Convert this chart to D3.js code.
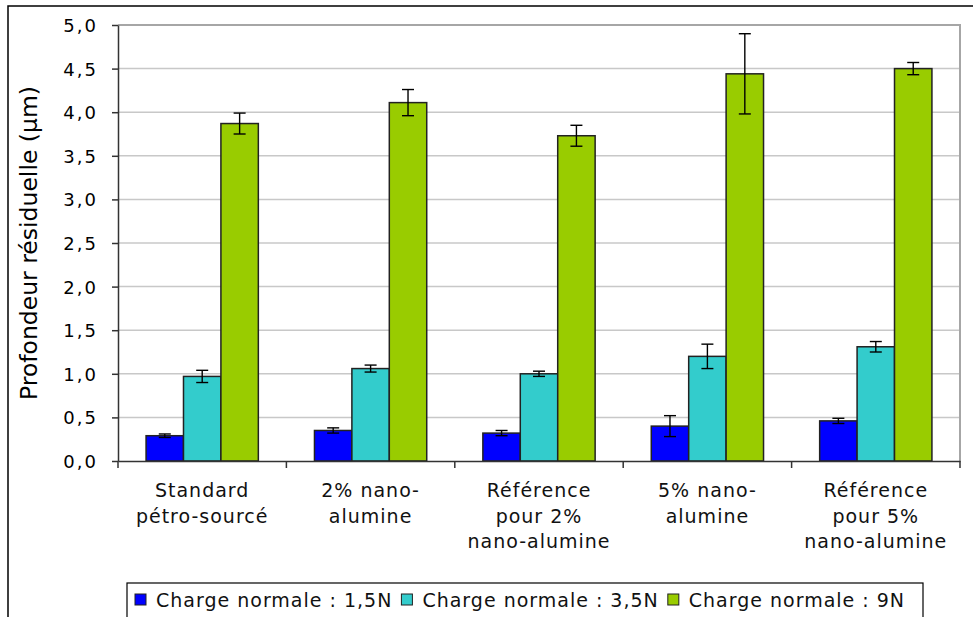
<!DOCTYPE html>
<html>
<head>
<meta charset="utf-8">
<script src="https://cdn.jsdelivr.net/npm/d3@7"></script>
<style>
body { margin: 0; background: #fff; }
svg { display: block; }
</style>
</head>
<body>
<div class="barchart"></div>
<script>
const categories = ["Standard\npétro-sourcé", "2% nano-\nalumine", "Référence\npour 2%\nnano-alumine", "5% nano-\nalumine", "Référence\npour 5%\nnano-alumine"]
const seriesNames = ["Charge normale : 1,5N", "Charge normale : 3,5N", "Charge normale : 9N"]
const charge15 = [0.29, 0.35, 0.32, 0.40, 0.46]
const charge35 = [0.97, 1.06, 1.00, 1.20, 1.31]
const charge9 = [3.87, 4.11, 3.73, 4.44, 4.50]
const err15 = [0.02, 0.03, 0.03, 0.12, 0.03]
const err35 = [0.07, 0.04, 0.03, 0.14, 0.06]
const err9 = [0.12, 0.15, 0.12, 0.46, 0.07]
const yTicks = [0, 0.5, 1, 1.5, 2, 2.5, 3, 3.5, 4, 4.5, 5]
const yTitle = "Profondeur résiduelle (µm)"

const seriesValues = [charge15, charge35, charge9]
const seriesErrors = [err15, err35, err9]
const colors = ["#0000ff", "#33cccc", "#99cc00"]

const svgWidth = 973
const svgHeight = 617
const plot = {left: 118, right: 960, top: 25, bottom: 461}
const font = "'DejaVu Sans', Verdana, sans-serif"

const svg = d3.select(".barchart").append("svg")
                .attr('width', svgWidth)
                .attr('height', svgHeight)

// chart frame (runs off the right and bottom of the picture)
svg.append('rect')
    .attr('x', 8).attr('y', 6)
    .attr('width', 1000).attr('height', 700)
    .attr('fill', 'none')
    .attr('stroke', '#000')
    .attr('stroke-width', 1.5)

const xScale = d3.scaleBand()
                .domain(categories)
                .range([plot.left, plot.right])

const xInner = d3.scaleBand()
                .domain(d3.range(seriesValues.length))
                .range([0, xScale.bandwidth()])
                .paddingInner(0)
                .paddingOuter(0.75)

const yScale = d3.scaleLinear()
                .domain([0, 5])
                .range([plot.bottom, plot.top])

// gridlines
svg.append('g')
    .selectAll('line')
    .data(yTicks.filter(d => d > 0))
    .join('line')
    .attr('x1', plot.left).attr('x2', plot.right)
    .attr('y1', d => yScale(d)).attr('y2', d => yScale(d))
    .attr('stroke', '#c8c8c8')
    .attr('stroke-width', 1.5)

// plot area border, top and right
svg.append('path')
    .attr('d', `M${plot.left},${plot.top}H${plot.right}V${plot.bottom}`)
    .attr('fill', 'none')
    .attr('stroke', '#a6a6a6')
    .attr('stroke-width', 2)

// bars
seriesValues.forEach((values, s) => {
    const group = svg.append('g')
    group.selectAll('rect')
        .data(values)
        .join('rect')
        .attr('x', (d, i) => xScale(categories[i]) + xInner(s))
        .attr('y', d => yScale(d))
        .attr('width', xInner.bandwidth())
        .attr('height', d => yScale(0) - yScale(d))
        .attr('fill', colors[s])
        .attr('stroke', '#222')
        .attr('stroke-width', 1.5)

    // error bars
    const errs = group.selectAll('g.err')
        .data(values.map((d, i) => ({v: d, e: seriesErrors[s][i], i: i})))
        .join('g')
        .attr('class', 'err')
        .attr('transform', d => `translate(${xScale(categories[d.i]) + xInner(s) + xInner.bandwidth() / 2},0)`)
        .attr('stroke', '#000')
        .attr('stroke-width', 1.4)
    errs.append('line')
        .attr('y1', d => yScale(d.v - d.e)).attr('y2', d => yScale(d.v + d.e))
    errs.append('line')
        .attr('x1', -6).attr('x2', 6)
        .attr('y1', d => yScale(d.v + d.e)).attr('y2', d => yScale(d.v + d.e))
    errs.append('line')
        .attr('x1', -6).attr('x2', 6)
        .attr('y1', d => yScale(d.v - d.e)).attr('y2', d => yScale(d.v - d.e))
})

// y axis
const yAxis = d3.axisLeft(yScale)
                .tickValues(yTicks)
                .tickFormat(d => d.toFixed(1).replace('.', ','))
                .tickSize(6)
                .tickSizeOuter(0)
                .tickPadding(14)

const yG = svg.append('g')
    .attr('transform', `translate(${plot.left},0)`)
    .call(yAxis)
yG.select('.domain').attr('stroke', '#333').attr('stroke-width', 1.5)
yG.selectAll('.tick line').attr('stroke', '#333').attr('stroke-width', 1.5)
yG.selectAll('.tick text')
    .attr('fill', '#000')
    .attr('font-family', font)
    .attr('font-size', '18px')
    .attr('letter-spacing', '2px')
    .attr('dy', '0.36em')

// x axis
const xAxis = d3.axisBottom(xScale).tickSize(0).tickFormat('')
const xG = svg.append('g')
    .attr('transform', `translate(0,${plot.bottom})`)
    .call(xAxis)
xG.select('.domain').attr('stroke', '#333').attr('stroke-width', 1.5)

xG.selectAll('line.cat')
    .data(categories.map(c => xScale(c)).concat([xScale.range()[1]]))
    .join('line')
    .attr('class', 'cat')
    .attr('x1', d => d).attr('x2', d => d)
    .attr('y1', 0).attr('y2', 7)
    .attr('stroke', '#333')
    .attr('stroke-width', 1.5)

const xLabels = svg.append('g')
    .selectAll('text')
    .data(categories)
    .join('text')
    .attr('x', d => xScale(d) + xScale.bandwidth() / 2)
    .attr('y', 497)
    .attr('text-anchor', 'middle')
    .attr('font-family', font)
    .attr('font-size', '19px')
    .attr('letter-spacing', '1px')
    .attr('fill', '#111')
xLabels.each(function(d) {
    const t = d3.select(this)
    d.split('\n').forEach((line, k) => {
        t.append('tspan')
            .attr('x', xScale(d) + xScale.bandwidth() / 2)
            .attr('y', 497 + k * 25.5)
            .text(line)
    })
})

// y title
svg.append('text')
    .attr('transform', `translate(37,${(plot.top + plot.bottom) / 2}) rotate(-90)`)
    .attr('text-anchor', 'middle')
    .attr('font-family', font)
    .attr('font-size', '23.5px')
    .attr('fill', '#000')
    .text(yTitle)

// legend
const legend = svg.append('g')
legend.append('rect')
    .attr('x', 127).attr('y', 583)
    .attr('width', 796).attr('height', 60)
    .attr('fill', '#fff')
    .attr('stroke', '#000')
    .attr('stroke-width', 1.2)

let lx = 135
seriesNames.forEach((name, s) => {
    legend.append('rect')
        .attr('x', lx).attr('y', 594)
        .attr('width', 11).attr('height', 11)
        .attr('fill', colors[s])
        .attr('stroke', '#222')
        .attr('stroke-width', 1)
    const t = legend.append('text')
        .attr('x', lx + 21)
        .attr('y', 607)
        .attr('font-family', font)
        .attr('font-size', '19px')
        .attr('letter-spacing', '1px')
        .attr('fill', '#111')
        .text(name)
    lx = lx + 21 + t.node().getComputedTextLength() + 9
})
</script>
</body>
</html>
